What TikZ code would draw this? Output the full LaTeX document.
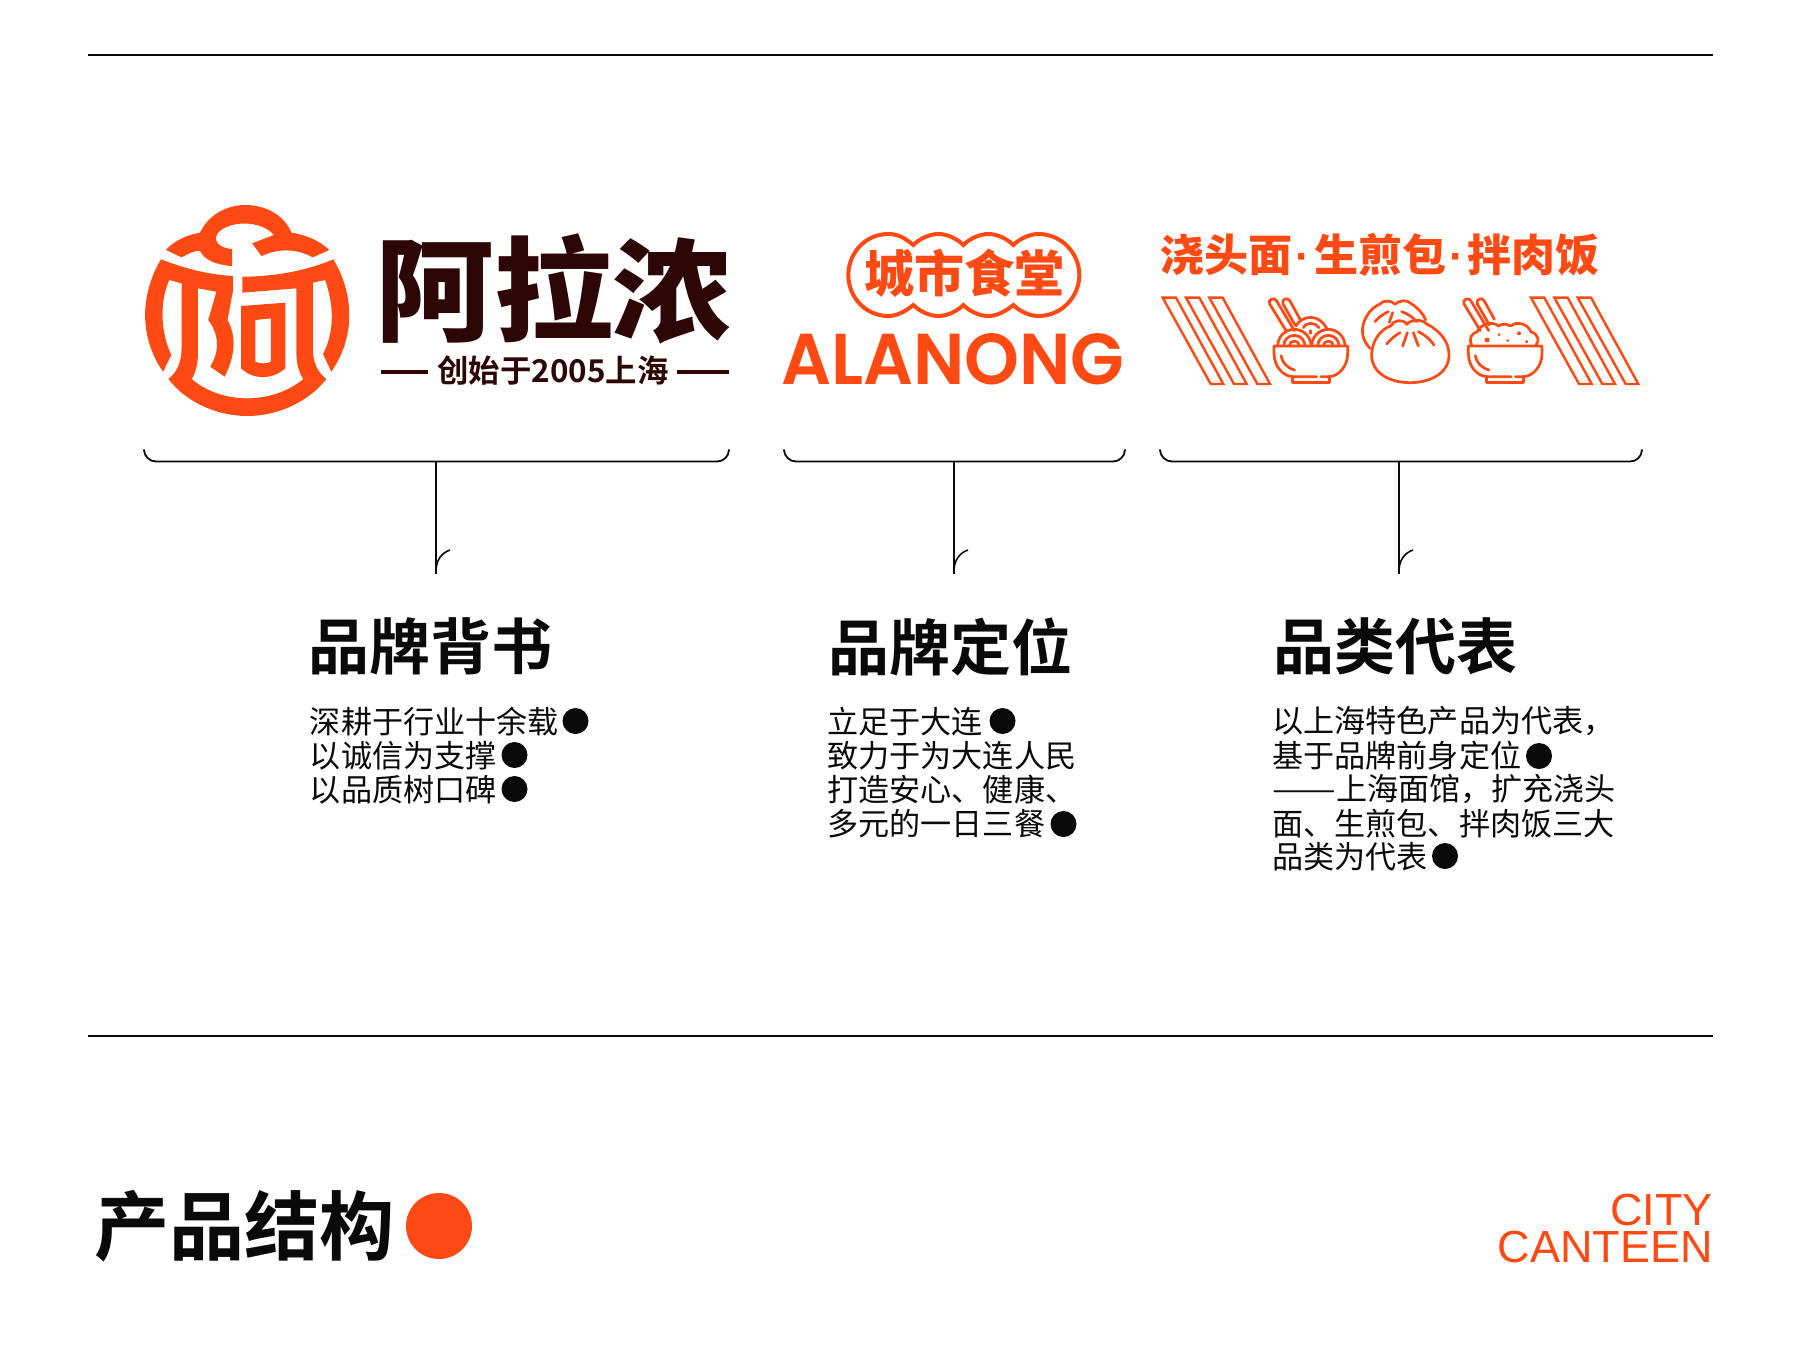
\documentclass[tikz,border=0pt]{standalone}
\usepackage{fontspec}
\setmainfont{Noto Sans CJK SC}
\newfontfamily\cjkreg{Noto Sans CJK SC}
\newfontfamily\cjkblack[UprightFont=* Black]{Noto Sans CJK SC}
\newfontfamily\cjkbold[UprightFont=* Bold]{Noto Sans CJK SC}
\newfontfamily\pop[UprightFont=* SemiBold]{Poppins}
\newfontfamily\lib{Liberation Sans}
\definecolor{orng}{HTML}{FF4A14}
\definecolor{brn}{HTML}{2D0606}
\definecolor{ink}{HTML}{0A0A0A}
\tikzset{
 x=0.5pt,y=-0.5pt,
 rule/.style={draw=ink,line width=1.1pt},
 bracket/.style={draw=ink,line width=0.9pt,rounded corners=6pt},
 stem/.style={draw=ink,line width=0.8pt},
 head/.style={anchor=west,inner sep=0,font=\cjkbold\fontsize{30.5}{31}\selectfont,text=ink},
 body/.style={anchor=west,inner sep=0,font=\cjkreg\fontsize{15.55}{17}\selectfont,text=ink},
 bdot/.style={circle,fill=ink,inner sep=0,minimum size=13pt},
 icon/.style={draw=orng,line width=1.35pt,line cap=round,line join=round},
 stripe/.style={draw=orng,line width=1.2pt,line join=miter},
}
\newcommand{\bowlicon}{%
  \draw[icon] (42,190) -- (42,168) -- (263,168) -- (263,190) .. controls (263,230) and (235,260) .. (205,260) -- (183,260);
  \draw[icon] (170,260) -- (100,260) .. controls (70,260) and (42,230) .. (42,190);
  \draw[icon] (97,262) -- (97,278) -- (208,278) -- (208,262);
  \draw[icon] (63,197) .. controls (66,218) and (82,234) .. (104,240);
  \draw[icon] (78,122) -- (29,42) .. controls (22,28) and (44,20) .. (50,33) -- (103,122);
  \draw[icon] (105,105) -- (69,42) .. controls (62,28) and (84,20) .. (90,33) -- (120,88);
}
\begin{document}
\begin{tikzpicture}
\useasboundingbox (0,0) rectangle (1800,1371);
\fill[white] (0,0) rectangle (1800,1371);
\coordinate (r1a) at (88,55); \coordinate (r1b) at (1713,55);
\coordinate (r2a) at (88,1036); \coordinate (r2b) at (1713,1036);
\draw[rule] (r1a) -- (r1b);
\draw[rule] (r2a) -- (r2b);
% logo
\begin{scope}[shift={(120,180)},xscale=0.41026,yscale=0.33333]
\fill[orng] (112,210) .. controls (130,185) and (160,165) .. (195,158)
 .. controls (215,105) and (260,75) .. (305,75) .. controls (355,75) and (400,105) .. (418,158)
 .. controls (455,165) and (490,185) .. (510,210) -- (470,232)
 .. controls (430,205) and (385,205) .. (345,228) -- (322,190) -- (375,165)
 .. controls (345,120) and (265,120) .. (238,160) .. controls (225,185) and (245,205) .. (273,207)
 -- (273,258) .. controls (235,255) and (205,240) .. (195,212) .. controls (180,212) and (165,222) .. (150,232) -- cycle;
\fill[orng] (100,238) .. controls (170,272) and (230,285) .. (275,288) -- (275,335)
 -- (262,420) .. controls (285,470) and (280,530) .. (255,590) -- (220,560)
 .. controls (245,510) and (240,460) .. (215,420) -- (235,335) -- (190,325) -- (190,520)
 .. controls (190,550) and (185,575) .. (175,597) .. controls (210,635) and (260,655) .. (310,655)
 .. controls (360,655) and (410,635) .. (447,597) .. controls (435,575) and (430,550) .. (430,520)
 -- (430,325) -- (298,338) -- (298,290) .. controls (380,290) and (460,270) .. (520,238)
 .. controls (570,340) and (575,470) .. (515,575) -- (495,522)
 .. controls (525,450) and (520,370) .. (500,300) -- (470,308) -- (470,505)
 .. controls (470,545) and (480,575) .. (503,597) .. controls (460,665) and (385,708) .. (310,708)
 .. controls (235,708) and (160,665) .. (118,597) .. controls (140,575) and (150,545) .. (150,505)
 -- (150,310) -- (120,300) .. controls (95,370) and (100,460) .. (125,525) -- (105,575)
 .. controls (45,470) and (50,340) .. (100,238) -- cycle;
\fill[orng,even odd rule] (295,378) -- (403,368) -- (403,565) .. controls (370,600) and (325,600) .. (295,565) -- cycle
 (330,420) -- (368,415) -- (368,545) .. controls (358,552) and (340,552) .. (330,545) -- cycle;
\end{scope}
\node (alanongcn) [anchor=center,inner sep=0,text=brn,xscale=1.05,font=\cjkblack\fontsize{56.5}{57}\selectfont] at (553.5,289) {阿拉浓};
\node (since) [anchor=center,inner sep=0,text=brn,font=\cjkbold\fontsize{15.7}{16}\selectfont] at (553,371) {创始于2005上海};
\coordinate (d1a) at (381,372); \coordinate (d1b) at (428,372);
\coordinate (d2a) at (677,372); \coordinate (d2b) at (729,372);
\draw[brn,line width=2pt] (d1a) -- (d1b) (d2a) -- (d2b);
% city logo
\begin{scope}[shift={(770,210)},scale=0.33333]
\draw[orng,line width=2pt] (430,105) .. controls (400,80) and (380,72) .. (355,72)
 .. controls (285,72) and (235,130) .. (235,195) .. controls (235,260) and (285,318) .. (355,318)
 .. controls (380,318) and (405,305) .. (430,285) .. controls (450,305) and (480,318) .. (505,318)
 .. controls (530,318) and (560,305) .. (580,285) .. controls (600,305) and (630,318) .. (655,318)
 .. controls (680,318) and (705,305) .. (730,285) .. controls (750,305) and (780,318) .. (805,318)
 .. controls (875,318) and (928,260) .. (928,195) .. controls (928,130) and (875,72) .. (805,72)
 .. controls (780,72) and (750,85) .. (730,105) .. controls (710,85) and (680,72) .. (655,72)
 .. controls (630,72) and (600,85) .. (580,105) .. controls (560,85) and (530,72) .. (505,72)
 .. controls (480,72) and (450,85) .. (430,105) -- cycle;
\end{scope}
\node (citycn) [inner sep=0,text=orng,font=\cjkblack\fontsize{25}{26}\selectfont] at (964,273) {城市食堂};
\node (alanong) [inner sep=0,text=orng,xscale=0.97,font=\pop\fontsize{36}{36}\selectfont] at (953,359) {ALANONG};
% third logo
\node (cats) [anchor=west,inner sep=0,text=orng,font=\cjkblack\fontsize{22}{22}\selectfont] at (1160,255) {浇头面{\lib\bfseries\kern1.75pt·\kern1.75pt}生煎包{\lib\bfseries\kern1.75pt·\kern1.75pt}拌肉饭};
\begin{scope}[shift={(1150,210)},scale=0.33333]
\foreach \d in {0,70,140,1105,1175,1245}{
 \draw[stripe] (38+\d,263) -- (78+\d,263) -- (220+\d,522) -- (182+\d,522) -- cycle;
}
\end{scope}
\begin{scope}[shift={(1260,290)},scale=0.33333]
\bowlicon
\begin{scope}[shift={(583,0)}]\bowlicon\end{scope}
% noodles
\foreach \cx/\cy/\r in {103/168/50,103/168/32,103/168/15,205/168/50,205/168/32,205/168/15}{
 \draw[icon] (\cx-\r,\cy) arc[start angle=180,end angle=360,radius=\r];
}
\draw[icon] (108,108) .. controls (115,92) and (135,82) .. (152,82) .. controls (172,82) and (190,95) .. (200,115);
\draw[icon] (130,113) .. controls (135,103) and (145,100) .. (152,100) .. controls (162,100) and (172,105) .. (177,113);
\draw[icon] (152,122) -- (152,130);
% bun
\draw[icon] (330,175) .. controls (305,150) and (300,115) .. (318,82) .. controls (328,62) and (345,48) .. (360,42)
 .. controls (368,30) and (395,30) .. (405,43) .. controls (418,30) and (442,28) .. (455,42) .. controls (475,55) and (490,72) .. (497,90);
\draw[icon] (345,95) .. controls (355,82) and (370,72) .. (385,65);
\draw[icon] (388,97) -- (398,68);
\draw[icon] (425,65) .. controls (445,72) and (458,82) .. (470,95);
\draw[icon] (335,195) .. controls (335,155) and (360,118) .. (392,108) .. controls (400,90) and (430,85) .. (440,103)
 .. controls (450,90) and (485,85) .. (500,102) .. controls (540,122) and (567,155) .. (567,195)
 .. controls (567,250) and (510,278) .. (450,278) .. controls (390,278) and (335,250) .. (335,195) -- cycle;
\draw[icon] (380,162) .. controls (392,148) and (405,136) .. (420,128);
\draw[icon] (428,168) -- (442,128);
\draw[icon] (475,168) -- (460,128);
\draw[icon] (475,125) .. controls (495,134) and (510,148) .. (522,165);
% rice
\draw[icon] (635,165) .. controls (625,145) and (635,130) .. (652,125) .. controls (660,102) and (700,92) .. (715,108)
 .. controls (728,100) and (740,102) .. (752,108) .. controls (770,92) and (805,102) .. (812,125)
 .. controls (835,132) and (840,152) .. (828,165);
\fill[orng] (681,150) circle[radius=7.5];
\fill[orng] (717,134) circle[radius=4.5];
\fill[orng] (743,152) circle[radius=4.5];
\fill[orng] (777,130) circle[radius=6];
\fill[orng] (800,155) circle[radius=5];
\end{scope}
% brackets
\coordinate (b1l) at (144,450); \coordinate (b1r) at (729,450); \coordinate (b1m) at (436,461.5); \coordinate (b1e) at (436,574);
\coordinate (b2l) at (784,450); \coordinate (b2r) at (1125,450); \coordinate (b2m) at (954,461.5); \coordinate (b2e) at (954,574);
\coordinate (b3l) at (1160,450); \coordinate (b3r) at (1642,450); \coordinate (b3m) at (1399,461.5); \coordinate (b3e) at (1399,574);
\foreach \a/\b/\m/\e in {b1l/b1r/b1m/b1e,b2l/b2r/b2m/b2e,b3l/b3r/b3m/b3e}{
 \draw[bracket] (\a) -- (\a |- \m) -- (\b |- \m) -- (\b);
 \draw[stem] (\m) -- (\e);
 \draw[stem] (\e) ++(0,-3) .. controls +(0,-10) and +(-9,3) .. +(14,-21);
}
% heads
\node (h1) [head] at (308.5,646.5) {品牌背书};
\node (h2) [head] at (828,646.5) {品牌定位};
\node (h3) [head] at (1273,646.5) {品类代表};
% bodies
\node (a1) [body] at (309.5,721.5) {深耕于行业十余载};
\node (a2) [body] at (309.5,755.5) {以诚信为支撑};
\node (a3) [body] at (309.5,789.5) {以品质树口碑};
\node (b1) [body] at (827,721.5) {立足于大连};
\node (b2) [body] at (827,755.5) {致力于为大连人民};
\node (b3) [body] at (827,789.5) {打造安心、健康、};
\node (b4) [body] at (827,823.5) {多元的一日三餐};
\node (c1) [body] at (1272,721.5) {以上海特色产品为代表，};
\node (c2) [body] at (1272,755.5) {基于品牌前身定位};
\node (c3) [body] at (1272,789.5) {\scalebox{1.22}[1]{——}上海面馆，扩充浇头};
\node (c4) [body] at (1272,823.5) {面、生煎包、拌肉饭三大};
\node (c5) [body] at (1272,857) {品类为代表};
\foreach \n/\px/\py in {d1/575.5/721,d2/514.5/755,d3/514.5/789,d4/1002.5/721,d5/1063.5/824,d6/1539/756,d7/1445/856}{
 \node (\n) [bdot] at (\px,\py) {};
}
\node (title) [anchor=west,inner sep=0,text=ink,font=\cjkbold\fontsize{37.6}{38}\selectfont] at (94,1226) {产品结构};
\node (tdot) [circle,fill=orng,inner sep=0,minimum size=33pt] at (439,1226) {};
\node (cityc) [anchor=east,align=right,inner sep=0,text=orng,font=\lib\fontsize{22.5}{18.75}\selectfont] at (1713,1228.5) {CITY\\CANTEEN};
\end{tikzpicture}
\end{document}
